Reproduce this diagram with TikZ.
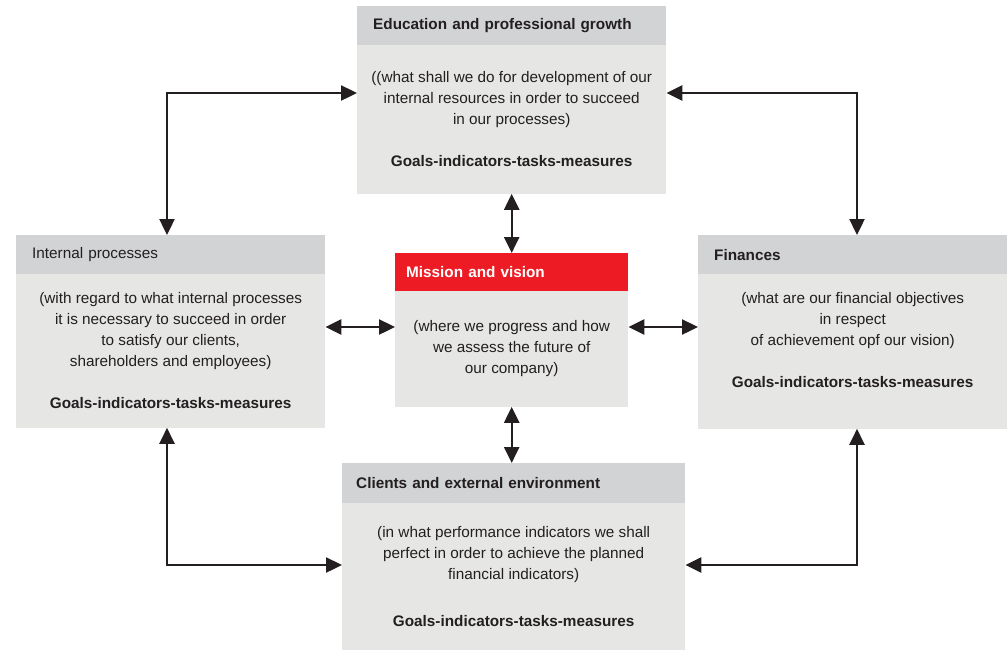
\documentclass[tikz,border=0pt]{standalone}
\usepackage{fontspec}
\setmainfont{Liberation Sans}
\usetikzlibrary{positioning}
\usetikzlibrary{arrows.meta}

\definecolor{headgrey}{HTML}{D1D3D4}
\definecolor{bodygrey}{HTML}{E6E6E5}
\definecolor{missionred}{HTML}{ED1C24}
\definecolor{ink}{HTML}{231F20}
\newcommand{\boxfont}{\fontsize{15.3}{21}\selectfont}

\begin{document}
\begin{tikzpicture}[
    x=1pt, y=-1pt,
    text=ink
]
\tikzset{
    head/.style = {anchor=north west, fill=headgrey, inner xsep=16pt, inner ysep=0pt,
                   minimum height=39pt, align=left, font=\boxfont\bfseries},
    body/.style = {fill=bodygrey, inner sep=0pt, align=center, font=\boxfont},
    link/.style = {{Triangle[length=16pt,width=15pt]}-{Triangle[length=16pt,width=15pt]},
                   line width=2.4pt, draw=ink}
}
\useasboundingbox (0,0) rectangle (1007,649);

% top panel
\node[head, text width=277pt] at (357,6) (eduHead) {Education and professional growth};
\node[body, below=-0.5pt of eduHead, minimum width=309pt, minimum height=148.5pt] (eduBody)
    {((what shall we do for development of our\\internal resources in order to succeed\\in our processes)\\[21pt]\textbf{Goals-indicators-tasks-measures}};

% centre panel
\node[head, fill=missionred, text=white, inner xsep=11pt, text width=211pt, minimum height=38pt]
    at (395,253) (misHead) {Mission and vision};
\node[body, below=-0.5pt of misHead, minimum width=233pt, minimum height=115.5pt] (misBody)
    {(where we progress and how\\we assess the future of\\our company)};

% left panel
\node[head, text width=277pt, font=\boxfont] at (16,235) (intHead) {Internal processes};
\node[body, below=-0.5pt of intHead, minimum width=309pt, minimum height=153.5pt] (intBody)
    {(with regard to what internal processes\\it is necessary to succeed in order\\to satisfy our clients,\\shareholders and employees)\\[21pt]\textbf{Goals-indicators-tasks-measures}};

% right panel
\node[head, text width=277pt] at (698,235) (finHead) {Finances};
\node[body, below=-0.5pt of finHead, minimum width=309pt, minimum height=154.5pt] (finBody)
    {(what are our financial objectives\\in respect\\of achievement opf our vision)\\[21pt]\textbf{Goals-indicators-tasks-measures}\\[-5pt]\strut};

% bottom panel
\node[head, inner xsep=14pt, text width=315pt, minimum height=40pt] at (342,463) (cliHead) {Clients and external environment};
\node[body, below=-0.5pt of cliHead, minimum width=343pt, minimum height=146.5pt] (cliBody)
    {(in what performance indicators we shall\\perfect in order to achieve the planned\\financial indicators)\\[26pt]\textbf{Goals-indicators-tasks-measures}};

% connectors
\draw[link] (eduBody.west |- 0,93) -| (intHead.north -| 167,0);
\draw[link] (eduBody.east |- 0,93) -| (finHead.north -| 857,0);
\draw[link] (intBody.south -| 167,0) |- (cliBody.west |- 0,565);
\draw[link] (finBody.south -| 857,0) |- (cliBody.east |- 0,565);
\draw[link] (eduBody.south) -- (misHead.north);
\draw[link] (misBody.south) -- (misBody.south |- cliHead.north);
\draw[link] (intBody.east |- 0,327) -- (misBody.west |- 0,327);
\draw[link] (misBody.east |- 0,327) -- (finBody.west |- 0,327);
\end{tikzpicture}
\end{document}
